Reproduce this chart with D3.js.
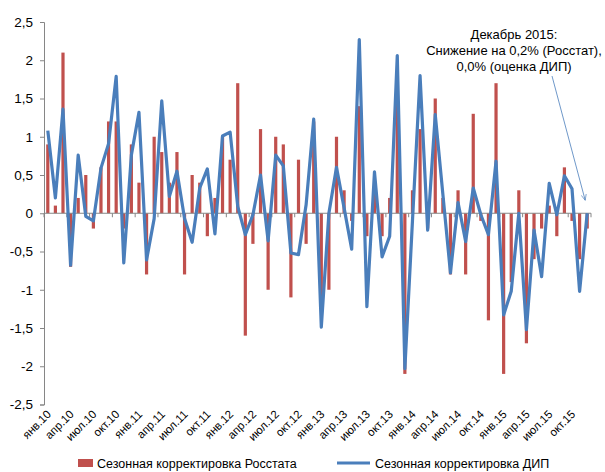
<!DOCTYPE html>
<html>
<head>
<meta charset="utf-8">
<script src="https://cdn.jsdelivr.net/npm/d3@7"></script>
<style>
body { margin: 0; background: #fff; }
svg text { font-family: "Liberation Sans", Arial, sans-serif; }
</style>
</head>
<body>
<script>
var years = ["10", "11", "12", "13", "14", "15"];
var monthNames = ["янв", "фев", "мар", "апр", "май", "июн", "июл", "авг", "сен", "окт", "ноя", "дек"];

// Сезонная корректировка Росстата (bars)
var rosstat = [
    0.9, 0.1, 2.1, -0.7, 0.2, 0.5, -0.2, 0.6, 1.2, 1.2, -0.2, 0.9,
    0.4, -0.8, 1.0, 0.8, 0.4, 0.8, -0.8, 0.5, 0.4, -0.3, 0.2, 1.0,
    0.7, 1.7, -1.6, -0.4, 1.1, -1.0, 1.0, 0.9, -1.1, 0.7, -0.4, 1.2,
    -1.1, -1.0, 1.0, 0.3, -0.1, 1.4, -0.3, 0.3, -0.3, 0.2, 1.5, -2.1,
    0.3, 1.1, -0.2, 1.5, 0.2, -0.8, 0.3, -0.8, 1.3, -0.1, -1.4, 1.7,
    -2.1, -0.9, 0.3, -1.7, -0.6, -0.2, 0.1, -0.3, 0.6, -0.1, -0.6, -0.2
];

// Сезонная корректировка ДИП (line)
var dip = [
    1.08, 0.2, 1.36, -0.68, 0.76, -0.04, -0.1, 0.59, 0.91, 1.79, -0.65, 0.76,
    1.32, -0.61, -0.07, 1.47, 0.22, 0.55, -0.07, -0.38, 0.33, 0.58, -0.27, 1.01,
    1.06, 0.09, -0.28, -0.02, 0.5, -0.36, 0.76, 0.62, -0.52, -0.54, 0.11, 1.23,
    -1.49, 0.0, 0.6, 0.07, -0.47, 2.27, -1.22, 0.54, -0.57, -0.3, 2.06, -2.03,
    -0.1, 1.8, -0.22, 1.29, 0.25, -0.78, 0.14, -0.37, 0.33, -0.02, -0.28, 0.68,
    -1.33, -1.02, 0.0, -1.52, -0.22, -0.83, 0.39, -0.02, 0.49, 0.32, -1.02, 0.0
];

var yTicks = [-2.5, -2, -1.5, -1, -0.5, 0, 0.5, 1, 1.5, 2, 2.5];
var legendLabels = ["Сезонная корректировка Росстата", "Сезонная корректировка ДИП"];
var note = ["Декабрь 2015:", "Снижение на 0,2% (Росстат),", "0,0% (оценка ДИП)"];

var months = [];
years.forEach(function (y) {
    monthNames.forEach(function (m) { months.push(m + "." + y); });
});

var width = 605,
    height = 472;

var svg = d3.select("body").append("svg")
    .attr("width", width)
    .attr("height", height);

var xc = d3.scaleBand().domain(months).range([44, 591]);
var y = d3.scaleLinear().domain([-2.5, 2.5]).range([404.5, 22]);

var fmt = function (d) { return String(d).replace(".", ","); };

// y axis
var yAxis = svg.append("g")
    .attr("transform", "translate(44,0)")
    .call(d3.axisLeft(y).tickValues(yTicks).tickSize(4).tickPadding(7).tickFormat(fmt));
yAxis.select(".domain").attr("stroke", "#868686");
yAxis.selectAll(".tick line").attr("stroke", "#868686");
yAxis.selectAll("text").attr("font-size", 13.5).attr("fill", "#000");

// bars
svg.selectAll(".bar")
    .data(rosstat)
    .enter()
    .append("rect")
    .attr("class", "bar")
    .attr("x", function (d, i) { return xc(months[i]) + xc.bandwidth() / 2 - 1.6; })
    .attr("width", 3.2)
    .attr("y", function (d) { return y(Math.max(0, d)); })
    .attr("height", function (d) { return Math.abs(y(d) - y(0)); })
    .attr("fill", "#c0504d");

// x axis at zero
var labelled = months.filter(function (m, i) { return i % 3 == 0; });
svg.append("line")
    .attr("x1", 44).attr("x2", 591)
    .attr("y1", y(0)).attr("y2", y(0))
    .attr("stroke", "#868686").attr("stroke-width", 1.2);
svg.selectAll(".xtick")
    .data(labelled)
    .enter()
    .append("line")
    .attr("x1", function (d) { return xc(d); })
    .attr("x2", function (d) { return xc(d); })
    .attr("y1", y(0)).attr("y2", y(0) + 4)
    .attr("stroke", "#868686");
svg.append("line")
    .attr("x1", 591).attr("x2", 591)
    .attr("y1", y(0)).attr("y2", y(0) + 4)
    .attr("stroke", "#868686");

svg.selectAll(".xlab")
    .data(labelled)
    .enter()
    .append("text")
    .attr("class", "xlab")
    .attr("transform", function (d) {
        return "translate(" + (xc(d) + xc.bandwidth() / 2 + 4) + ",415) rotate(-45)";
    })
    .attr("text-anchor", "end")
    .attr("font-size", 11.5)
    .attr("fill", "#000")
    .text(function (d) { return d; });

// line
var line = d3.line()
    .x(function (d, i) { return xc(months[i]) + xc.bandwidth() / 2; })
    .y(function (d) { return y(d); });

svg.append("path")
    .datum(dip)
    .attr("d", line)
    .attr("fill", "none")
    .attr("stroke", "#4a7ebb")
    .attr("stroke-width", 3.2)
    .attr("stroke-linejoin", "round");

// annotation
svg.append("text")
    .attr("x", 514)
    .attr("y", 39)
    .attr("text-anchor", "middle")
    .attr("font-size", 13)
    .attr("fill", "#000")
    .selectAll("tspan")
    .data(note)
    .enter()
    .append("tspan")
    .attr("x", 514)
    .attr("dy", function (d, i) { return i == 0 ? 0 : 16; })
    .text(function (d) { return d; });

svg.append("defs").append("marker")
    .attr("id", "arr")
    .attr("viewBox", "0 0 10 10")
    .attr("refX", 9).attr("refY", 5)
    .attr("markerWidth", 8).attr("markerHeight", 8)
    .attr("orient", "auto")
    .append("path")
    .attr("d", "M0,1 L9,5 L0,9")
    .attr("fill", "none")
    .attr("stroke", "#4a7ebb")
    .attr("stroke-width", 1);

var lastX = xc(months[71]) + xc.bandwidth() / 2;
svg.append("line")
    .attr("x1", 552).attr("y1", 76)
    .attr("x2", lastX - 2).attr("y2", y(0) - 13)
    .attr("stroke", "#4a7ebb")
    .attr("stroke-width", 0.8)
    .attr("marker-end", "url(#arr)");

// legend
var legend = svg.append("g");
legend.append("rect")
    .attr("x", 78).attr("y", 459)
    .attr("width", 15).attr("height", 8)
    .attr("fill", "#c0504d");
legend.append("text")
    .attr("x", 97).attr("y", 468)
    .attr("font-size", 12.5)
    .attr("fill", "#000")
    .text(legendLabels[0]);
legend.append("line")
    .attr("x1", 337).attr("x2", 370)
    .attr("y1", 463).attr("y2", 463)
    .attr("stroke", "#4a7ebb")
    .attr("stroke-width", 3.2);
legend.append("text")
    .attr("x", 375).attr("y", 468)
    .attr("font-size", 12.5)
    .attr("fill", "#000")
    .text(legendLabels[1]);
</script>
</body>
</html>
